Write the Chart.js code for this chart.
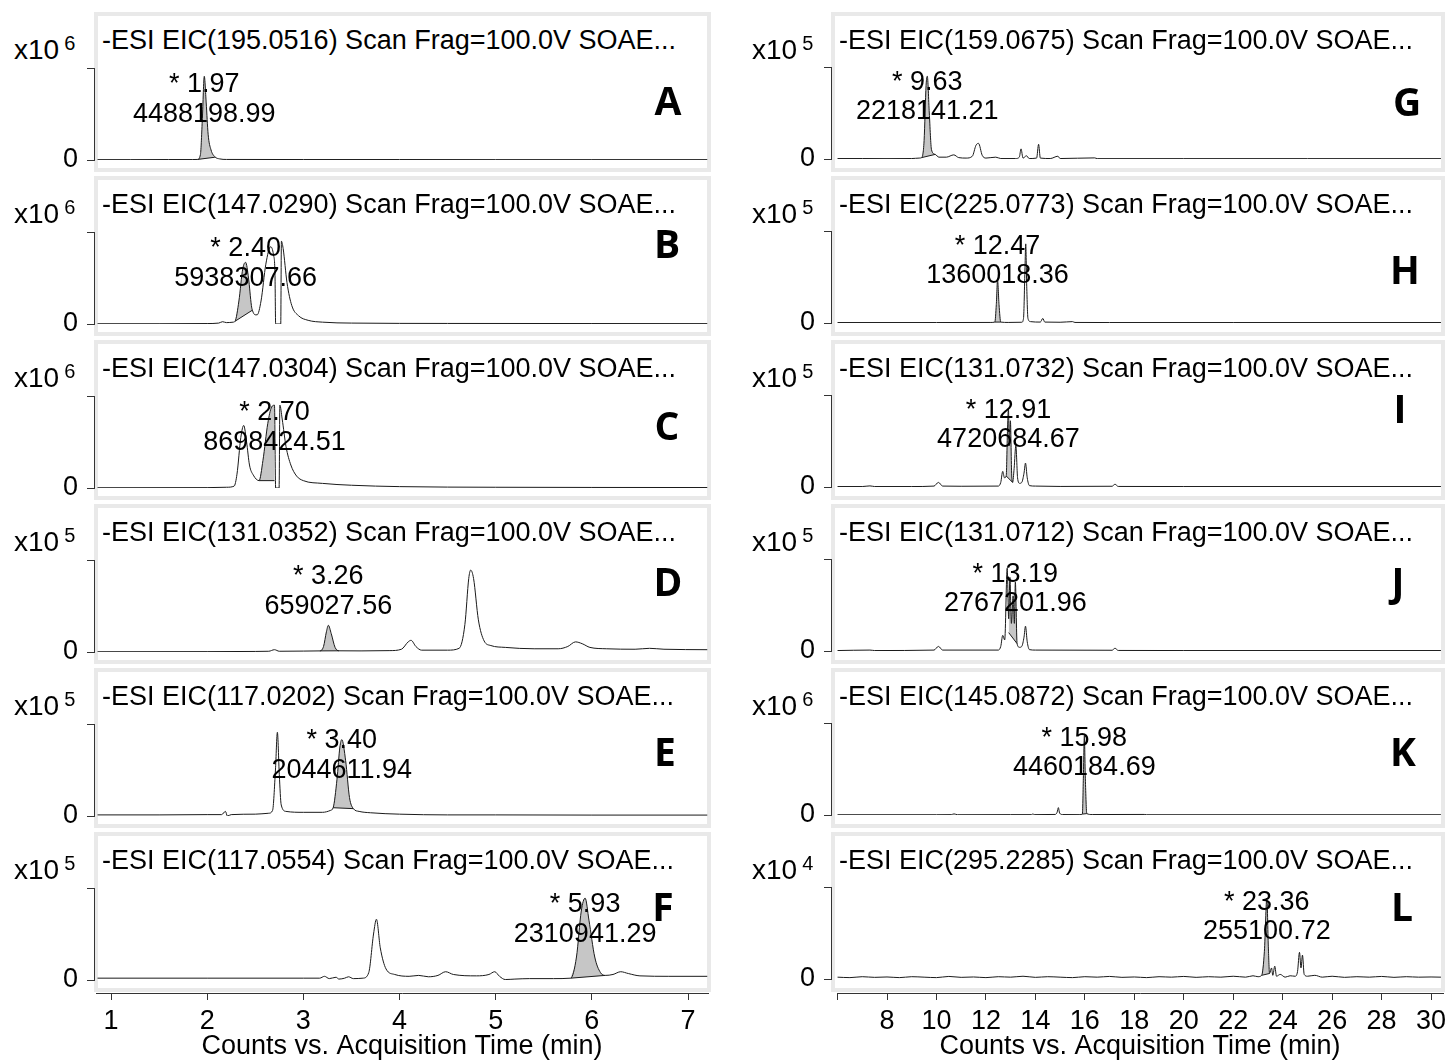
<!DOCTYPE html>
<html>
<head>
<meta charset="utf-8">
<script src="https://cdn.jsdelivr.net/npm/chart.js@4.4.1/dist/chart.umd.min.js"></script>
<style>
  html, body { margin: 0; padding: 0; background: #fff; }
  body { width: 1447px; height: 1060px; position: relative; overflow: hidden;
         font-family: "Liberation Sans", Arial, sans-serif; color: #000; }
  .frame { position: absolute; box-sizing: border-box; border: 4px solid #e9e9e9; background: #fff; }
  canvas { position: absolute; }
  .title { position: absolute; font-size: 27px; line-height: 27px; white-space: nowrap; }
  .letter { position: absolute; font-family: "Open Sans", sans-serif; font-weight: 700;
            font-size: 39px; line-height: 39px; transform: translate(-50%, -50%); }
  .expo { position: absolute; font-size: 28px; line-height: 28px; white-space: nowrap; }
  .expo span { font-size: 20px; position: relative; top: -9px; margin-left: 5px; }
</style>
</head>
<body>
<script>
// ---- Extracted ion chromatograms: panel identifiers and peak annotations ----
const panelIds  = ['A','B','C','D','E','F','G','H','I','J','K','L'];
const mzValues  = ['195.0516','147.0290','147.0304','131.0352','117.0202','117.0554',
                   '159.0675','225.0773','131.0732','131.0712','145.0872','295.2285'];
const exponents = [6, 6, 6, 5, 5, 5, 5, 5, 5, 5, 6, 4];
const peakRT    = [1.97, 2.40, 2.70, 3.26, 3.40, 5.93, 9.63, 12.47, 12.91, 13.19, 15.98, 23.36];
const peakArea  = ['4488198.99','5938307.66','8698424.51','659027.56','2044611.94','2310941.29',
                   '2218141.21','1360018.36','4720684.67','2767201.96','4460184.69','255100.72'];

// Time axis tick labels (min)
const leftTicks  = [1, 2, 3, 4, 5, 6, 7];
const rightTicks = [6, 8, 10, 12, 14, 16, 18, 20, 22, 24, 26, 28, 30];

// ---- Traces: [time (min), intensity relative to the upper axis tick] ----
const traceA = [[0.86,0.004],[1.2,0.004],[1.6,0.005],[1.85,0.005],[1.90,0.006],[1.93,0.06],[1.95,0.45],
  [1.97,0.91],[1.99,0.62],[2.01,0.28],[2.04,0.11],[2.08,0.035],[2.13,0.012],[2.2,0.006],[3,0.005],
  [4,0.005],[5,0.004],[6,0.004],[7.2,0.004]];
const traceB = [[0.86,0.003],[1.5,0.003],[2.0,0.005],[2.12,0.01],[2.16,0.025],[2.2,0.015],[2.27,0.02],
  [2.29,0.03],[2.33,0.25],[2.37,0.6],[2.40,0.67],[2.43,0.5],[2.46,0.2],[2.47,0.15],[2.50,0.1],[2.52,0.1],
  [2.56,0.25],[2.61,0.65],[2.66,0.84],[2.69,0.75],[2.705,0.55],[2.712,0.0],[2.765,0.0],[2.772,0.9],
  [2.79,0.82],[2.83,0.45],[2.88,0.2],[2.95,0.09],[3.05,0.04],[3.2,0.02],[3.5,0.01],[4.5,0.006],
  [6,0.005],[7.2,0.004]];
const traceC = [[0.86,0.003],[2.0,0.004],[2.2,0.008],[2.28,0.02],[2.31,0.15],[2.35,0.55],[2.38,0.68],
  [2.41,0.5],[2.44,0.25],[2.48,0.14],[2.54,0.08],[2.58,0.3],[2.63,0.7],[2.67,0.88],[2.70,0.9],
  [2.712,0.0],[2.748,0.0],[2.756,0.9],[2.78,0.75],[2.82,0.45],[2.87,0.25],[2.93,0.13],[3.0,0.08],
  [3.2,0.05],[3.5,0.03],[4,0.015],[5,0.008],[6,0.006],[7.2,0.005]];
const traceD = [[0.86,0.003],[2.0,0.004],[2.5,0.006],[2.64,0.008],[2.7,0.025],[2.75,0.008],[3.0,0.01],
  [3.17,0.012],[3.21,0.06],[3.24,0.22],[3.26,0.29],[3.29,0.2],[3.33,0.05],[3.37,0.013],[3.6,0.012],
  [3.9,0.015],[4.02,0.03],[4.09,0.11],[4.12,0.127],[4.17,0.06],[4.23,0.02],[4.5,0.02],[4.62,0.04],
  [4.68,0.3],[4.72,0.8],[4.74,0.89],[4.77,0.8],[4.82,0.35],[4.88,0.12],[4.95,0.07],[5.1,0.05],
  [5.4,0.035],[5.65,0.035],[5.75,0.06],[5.83,0.11],[5.9,0.09],[5.98,0.05],[6.15,0.035],[6.45,0.03],
  [6.6,0.04],[6.75,0.03],[7.2,0.025]];
const traceE = [[0.86,0.012],[1.5,0.012],[2.0,0.015],[2.15,0.015],[2.19,0.05],[2.21,0.0],[2.25,0.015],
  [2.5,0.02],[2.64,0.03],[2.68,0.06],[2.71,0.5],[2.73,0.91],[2.75,0.45],[2.77,0.12],[2.82,0.05],
  [3.0,0.04],[3.2,0.04],[3.28,0.06],[3.31,0.09],[3.35,0.4],[3.38,0.75],[3.40,0.83],[3.44,0.6],
  [3.48,0.2],[3.52,0.08],[3.58,0.05],[3.7,0.035],[4.0,0.02],[4.5,0.012],[5.0,0.012],[6.0,0.01],[7.2,0.01]];
const traceF = [[0.86,0.02],[2,0.02],[3.0,0.02],[3.17,0.02],[3.22,0.04],[3.27,0.015],[3.34,0.03],
  [3.37,0.01],[3.43,0.02],[3.47,0.035],[3.52,0.015],[3.62,0.02],[3.68,0.08],[3.73,0.5],[3.76,0.66],
  [3.80,0.35],[3.86,0.12],[3.95,0.06],[4.1,0.04],[4.2,0.05],[4.3,0.035],[4.4,0.05],[4.48,0.09],
  [4.56,0.06],[4.8,0.045],[4.93,0.06],[4.99,0.09],[5.04,0.04],[5.1,0.005],[5.2,0.01],[5.35,0.015],
  [5.6,0.015],[5.78,0.02],[5.84,0.25],[5.89,0.75],[5.93,0.89],[5.97,0.65],[6.03,0.25],[6.09,0.08],
  [6.14,0.05],[6.22,0.06],[6.3,0.09],[6.38,0.07],[6.5,0.045],[6.8,0.04],[7.2,0.04]];
const traceG = [[6.0,0.005],[7,0.005],[8,0.004],[9,0.005],[9.3,0.01],[9.4,0.015],[9.5,0.2],[9.58,0.8],
  [9.63,0.9],[9.71,0.5],[9.8,0.1],[9.95,0.05],[10.1,0.02],[10.4,0.02],[10.7,0.045],[10.9,0.015],
  [11.2,0.01],[11.45,0.03],[11.6,0.15],[11.7,0.17],[11.85,0.04],[12.0,0.01],[12.4,0.02],[12.6,0.005],
  [13.2,0.005],[13.35,0.02],[13.42,0.11],[13.5,0.01],[13.64,0.035],[13.75,0.005],[14.05,0.01],
  [14.13,0.16],[14.2,0.01],[14.6,0.005],[14.91,0.03],[15.0,0.005],[16.4,0.012],[16.5,0.004],
  [20,0.004],[25,0.004],[30.4,0.004]];
const traceH = [[6,0.005],[8,0.005],[10,0.005],[12.2,0.006],[12.36,0.01],[12.42,0.2],[12.47,0.47],
  [12.53,0.2],[12.6,0.01],[12.9,0.006],[13.45,0.008],[13.52,0.05],[13.58,0.6],[13.61,0.86],[13.65,0.4],
  [13.7,0.05],[13.8,0.015],[14.2,0.01],[14.3,0.05],[14.38,0.01],[15.0,0.008],[15.5,0.015],[15.6,0.006],
  [17,0.005],[22,0.005],[30.4,0.005]];
const traceI = [[6,0.005],[7.0,0.005],[7.31,0.012],[7.5,0.005],[9.0,0.005],[9.9,0.01],[10.08,0.05],
  [10.25,0.01],[11,0.008],[12.5,0.01],[12.6,0.05],[12.68,0.17],[12.75,0.1],[12.82,0.12],[12.87,0.6],
  [12.91,0.85],[12.95,0.45],[12.99,0.72],[13.04,0.15],[13.08,0.05],[13.14,0.2],[13.21,0.45],
  [13.28,0.1],[13.36,0.04],[13.45,0.05],[13.54,0.15],[13.6,0.26],[13.67,0.1],[13.76,0.015],[14,0.01],
  [15,0.006],[17.1,0.008],[17.22,0.03],[17.35,0.006],[20,0.005],[30.4,0.005]];
const traceJ = [[6,0.005],[7.31,0.01],[7.5,0.005],[9.9,0.01],[10.08,0.05],[10.25,0.01],[12.5,0.01],
  [12.6,0.05],[12.68,0.17],[12.76,0.12],[12.86,0.9],[12.92,0.35],[12.97,0.8],[13.03,0.3],[13.1,0.6],
  [13.15,0.3],[13.19,0.75],[13.26,0.08],[13.36,0.04],[13.45,0.05],[13.54,0.15],[13.6,0.27],[13.67,0.1],
  [13.76,0.015],[14,0.01],[17.1,0.008],[17.22,0.03],[17.35,0.006],[20,0.005],[30.4,0.005]];
const traceK = [[6,0.003],[8,0.003],[10,0.003],[10.6,0.004],[10.71,0.012],[10.85,0.003],[13,0.004],
  [13.85,0.004],[13.9,0.012],[13.95,0.004],[14.8,0.006],[14.88,0.03],[14.93,0.08],[14.98,0.02],
  [15.1,0.005],[15.8,0.004],[15.9,0.01],[15.94,0.4],[15.98,0.86],[16.02,0.4],[16.08,0.015],[16.3,0.005],
  [18.4,0.006],[18.5,0.003],[30.4,0.003]];
const traceL = [[6,0.02],[6.5,0.015],[7,0.025],[7.5,0.018],[8,0.022],[8.5,0.015],[9,0.025],[9.5,0.02],
  [10,0.015],[10.5,0.028],[11,0.018],[11.5,0.022],[12,0.015],[12.5,0.025],[13,0.02],[13.5,0.03],
  [14,0.018],[14.5,0.025],[15,0.02],[15.5,0.015],[16,0.025],[16.5,0.02],[17,0.028],[17.5,0.018],
  [18,0.022],[18.5,0.015],[19,0.025],[19.5,0.02],[20,0.028],[20.5,0.018],[21,0.025],[21.5,0.02],
  [22,0.03],[22.5,0.02],[22.8,0.035],[23.0,0.025],[23.15,0.04],[23.26,0.3],[23.36,0.88],[23.42,0.35],
  [23.47,0.06],[23.55,0.12],[23.6,0.04],[23.68,0.14],[23.75,0.03],[23.9,0.05],[24.1,0.02],[24.3,0.035],
  [24.5,0.03],[24.6,0.08],[24.68,0.29],[24.74,0.12],[24.8,0.26],[24.87,0.05],[25.0,0.03],[25.3,0.04],
  [25.6,0.02],[26,0.03],[26.5,0.018],[27,0.025],[27.5,0.02],[28,0.028],[28.5,0.018],[29,0.025],
  [29.5,0.02],[30,0.022],[30.4,0.02]];

// ---- Integration baselines of the annotated peaks: [[start, level], [end, level]] ----
const integA = [[1.90,0.006],[2.08,0.03]];
const integB = [[2.29,0.03],[2.47,0.15]];
const integC = [[2.54,0.08],[2.70,0.08]];
const integD = [[3.17,0.012],[3.37,0.013]];
const integE = [[3.31,0.09],[3.52,0.08]];
const integF = [[5.78,0.02],[6.14,0.05]];
const integG = [[9.40,0.015],[9.95,0.05]];
const integH = [[12.36,0.01],[12.60,0.01]];
const integI = [[12.82,0.12],[13.08,0.05]];
const integJ = [[12.92,0.2],[13.26,0.08]];
const integK = [[15.90,0.01],[16.08,0.015]];
const integL = [[23.15,0.04],[23.47,0.06]];

const traces = [traceA,traceB,traceC,traceD,traceE,traceF,traceG,traceH,traceI,traceJ,traceK,traceL];
const integs = [integA,integB,integC,integD,integE,integF,integG,integH,integI,integJ,integK,integL];

// ---- Page layout ----
const FONT = '"Liberation Sans", Arial, sans-serif';
const TEXT_SIZE = 27;
const columns = [
  { canvasLeft: 0,   canvasWidth: 740, axisX: 94,  plotRight: 708,  refT: 1, refPx: 111, pxPerMin: 96.17,
    frameLeft: 94,  frameWidth: 617, expoLeft: 14,  axisStart: 96,  ticks: leftTicks,  zero0: 160,
    labelDy: [17, 47] },
  { canvasLeft: 720, canvasWidth: 760, axisX: 831, plotRight: 1443, refT: 8, refPx: 887, pxPerMin: 24.73,
    frameLeft: 831, frameWidth: 614, expoLeft: 752, axisStart: 837, ticks: rightTicks, zero0: 159,
    labelDy: [16, 45] }
];
const letterPos = [[668,99],[667,242],[667,424],[668,580],[665,750],[663,905],
                   [1407,100],[1405,268],[1400,407],[1398,580],[1403,750],[1402,905]];
const PITCH = 164, FRAME_TOP = 12, FRAME_H = 160, AXIS_SPAN = 92;

const timeAt = (col, px) => col.refT + (px - col.refPx) / col.pxPerMin;
const toXY = pairs => pairs.map(p => ({ x: p[0], y: p[1] }));

function addDiv(cls, left, top, html) {
  const d = document.createElement('div');
  d.className = cls; d.style.left = left + 'px'; d.style.top = top + 'px';
  d.innerHTML = html; document.body.appendChild(d); return d;
}
function addCanvas(left, top, w, h) {
  const c = document.createElement('canvas');
  c.width = w; c.height = h; c.style.left = left + 'px'; c.style.top = top + 'px';
  c.style.width = w + 'px'; c.style.height = h + 'px';
  document.body.appendChild(c); return c;
}

// Retention time and peak area printed above each integrated peak
const peakLabelPlugin = {
  id: 'peakLabel',
  afterDatasetsDraw(chart, args, opts) {
    const { ctx, chartArea, scales } = chart;
    const px = scales.x.getPixelForValue(opts.rt);
    ctx.save();
    ctx.font = TEXT_SIZE + 'px ' + FONT;
    ctx.fillStyle = '#000';
    ctx.textAlign = 'center';
    ctx.textBaseline = 'middle';
    ctx.fillText('* ' + opts.rt.toFixed(2), px, chartArea.top + opts.dy1);
    ctx.fillText(opts.area, px, chartArea.top + opts.dy2);
    ctx.restore();
  }
};

panelIds.forEach((id, i) => {
  const col = columns[i < 6 ? 0 : 1];
  const row = i % 6;
  const frameTop = FRAME_TOP + PITCH * row;
  const zeroY = col.zero0 + PITCH * row;
  const topY = zeroY - AXIS_SPAN;

  const f = addDiv('frame', col.frameLeft, frameTop, '');
  f.style.width = col.frameWidth + 'px'; f.style.height = FRAME_H + 'px';

  addDiv('title', col.frameLeft + 8, frameTop + 15,
    '-ESI EIC(' + mzValues[i] + ') Scan Frag=100.0V SOAE...');
  addDiv('expo', col.expoLeft, frameTop + 24, 'x10<span>' + exponents[i] + '</span>');

  const canvasH = 190;
  const cv = addCanvas(col.canvasLeft, frameTop, col.canvasWidth, canvasH);
  const integ = integs[i];
  const shade = traces[i].filter(p => p[0] >= integ[0][0] && p[0] <= integ[1][0]);

  new Chart(cv, {
    type: 'line',
    data: {
      datasets: [
        { data: toXY(traces[i]), borderColor: '#1a1a1a', borderWidth: 1, pointRadius: 0,
          fill: false, cubicInterpolationMode: 'monotone', order: 0 },
        { data: toXY(shade), borderColor: 'rgba(0,0,0,0)', borderWidth: 0, pointRadius: 0,
          fill: '+1', backgroundColor: '#c6c6c6', cubicInterpolationMode: 'monotone', order: 2 },
        { data: toXY(integ), borderColor: '#1a1a1a', borderWidth: 1, pointRadius: 0,
          fill: false, order: 1 }
      ]
    },
    options: {
      responsive: false, animation: false, devicePixelRatio: 1,
      layout: { padding: { left: 0, top: topY - frameTop,
                           right: col.canvasLeft + col.canvasWidth - col.plotRight,
                           bottom: frameTop + canvasH - zeroY } },
      scales: {
        x: { type: 'linear', display: false,
             min: timeAt(col, col.axisX), max: timeAt(col, col.plotRight) },
        y: { type: 'linear', position: 'left', min: 0, max: 1,
             afterFit(s) { s.width = col.axisX - col.canvasLeft; },
             afterBuildTicks(s) { s.ticks = [{ value: 0 }, { value: 1 }]; },
             ticks: { callback: v => (v === 0 ? '0' : ''), color: '#000', padding: 9,
                      font: { family: FONT, size: TEXT_SIZE, lineHeight: 1 }, autoSkip: false },
             grid: { drawOnChartArea: false, drawTicks: true, tickLength: 7, color: '#333', lineWidth: 1 },
             border: { display: true, color: '#333', width: 1 } }
      },
      plugins: {
        legend: { display: false }, tooltip: { enabled: false },
        peakLabel: { rt: peakRT[i], area: peakArea[i], dy1: col.labelDy[0], dy2: col.labelDy[1] }
      }
    },
    plugins: [peakLabelPlugin]
  });

  addDiv('letter', letterPos[i][0], letterPos[i][1], id);
});

// ---- Shared time axes under each column ----
columns.forEach(col => {
  const top = 960, h = 100;
  const cv = addCanvas(col.canvasLeft, top, col.canvasWidth, h);
  new Chart(cv, {
    type: 'line',
    data: { datasets: [] },
    options: {
      responsive: false, animation: false, devicePixelRatio: 1,
      layout: { padding: { left: col.axisStart - col.canvasLeft, top: 0, bottom: 0,
                           right: col.canvasLeft + col.canvasWidth - col.plotRight } },
      scales: {
        x: { type: 'linear', position: 'bottom',
             min: timeAt(col, col.axisStart), max: timeAt(col, col.plotRight),
             afterFit(s) { s.height = 67; },
             afterBuildTicks(s) { s.ticks = col.ticks.map(v => ({ value: v })); },
             ticks: { callback: v => (v === 6 && col.ticks === rightTicks ? '' : String(v)),
                      color: '#000', padding: 8, maxRotation: 0, autoSkip: false,
                      font: { family: FONT, size: TEXT_SIZE, lineHeight: 1 } },
             grid: { drawOnChartArea: false, drawTicks: true, tickLength: 7, color: '#333' },
             border: { display: true, color: '#333', width: 1 },
             title: { display: true, text: 'Counts vs. Acquisition Time (min)', color: '#000',
                      font: { family: FONT, size: TEXT_SIZE, lineHeight: 1 }, padding: { top: 0, bottom: 0 } } },
        y: { display: false }
      },
      plugins: { legend: { display: false }, tooltip: { enabled: false } }
    }
  });
});
</script>
</body>
</html>
